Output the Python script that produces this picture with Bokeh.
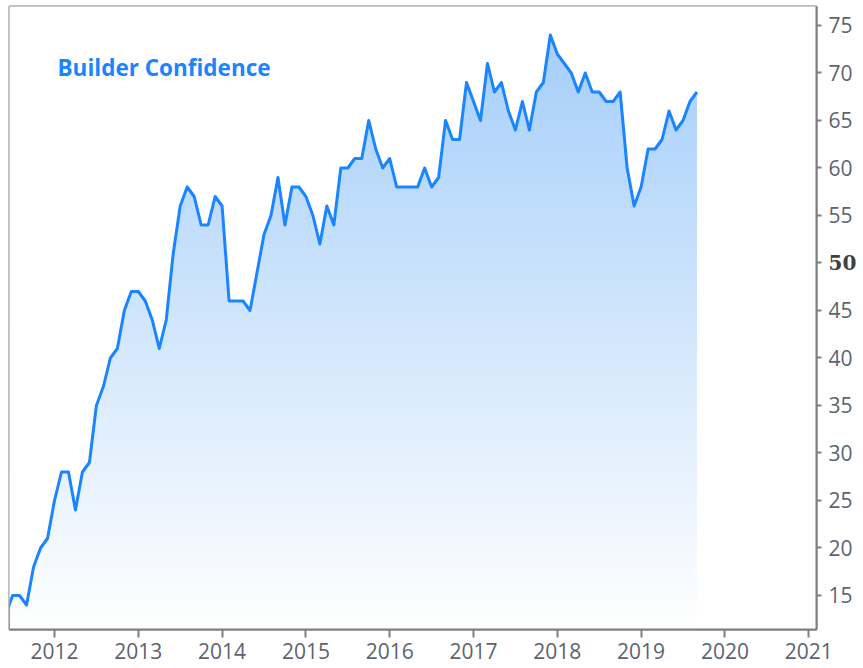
import numpy as np
from bokeh.plotting import figure
from bokeh.models import Range1d, FixedTicker, Label, LinearAxis
from bokeh.embed import file_html
from bokeh.resources import INLINE

# ---- data: NAHB builder confidence, monthly, Jun 2011 .. Sep 2019 ----
start_year = 2011
start_month = 6
values_2011 = [13, 15, 15, 14, 18, 20, 21]
values_2012 = [25, 28, 28, 24, 28, 29, 35, 37, 40, 41, 45, 47]
values_2013 = [47, 46, 44, 41, 44, 51, 56, 58, 57, 54, 54, 57]
values_2014 = [56, 46, 46, 46, 45, 49, 53, 55, 59, 54, 58, 58]
values_2015 = [57, 55, 52, 56, 54, 60, 60, 61, 61, 65, 62, 60]
values_2016 = [61, 58, 58, 58, 58, 60, 58, 59, 65, 63, 63, 69]
values_2017 = [67, 65, 71, 68, 69, 66, 64, 67, 64, 68, 69, 74]
values_2018 = [72, 71, 70, 68, 70, 68, 68, 67, 67, 68, 60, 56]
values_2019 = [58, 62, 62, 63, 66, 64, 65, 67, 68]
x_tick_years = [2012, 2013, 2014, 2015, 2016, 2017, 2018, 2019, 2020, 2021]
y_ticks = [15, 20, 25, 30, 35, 40, 45, 50, 55, 60, 65, 70, 75]
y_bold_ticks = [50]
title_text = "Builder Confidence"

values = (values_2011 + values_2012 + values_2013 + values_2014 + values_2015
          + values_2016 + values_2017 + values_2018 + values_2019)
months = [start_month - 1 + i for i in range(len(values))]
xs = [start_year + m / 12.0 for m in months]

# ---- ranges ----
X0, X1 = 2011.463, 2021.093
Y0, Y1 = 11.42, 77.0

p = figure(width=863, height=668, output_backend="svg", toolbar_location=None,
           x_range=Range1d(X0, X1), y_range=Range1d(Y0, Y1),
           y_axis_location="right",
           min_border_left=9, min_border_top=6, min_border_right=47,
           min_border_bottom=39, background_fill_color="white",
           border_fill_color="white")
p.grid.visible = False
p.outline_line_color = "#7f7f7f"
p.outline_line_width = 2

# vertical gradient background (style only)
n = 256
t = np.linspace(0.0, 1.0, n)  # 0 bottom -> 1 top
top = np.array([162, 205, 250])
bot = np.array([255, 255, 255])
img = np.empty((n, 1), dtype=np.uint32)
view = img.view(dtype=np.uint8).reshape((n, 1, 4))
for i in range(n):
    c = bot + (top - bot) * t[i]
    view[i, 0, 0] = int(c[0])
    view[i, 0, 1] = int(c[1])
    view[i, 0, 2] = int(c[2])
    view[i, 0, 3] = 255
p.image_rgba(image=[img], x=X0, y=Y0, dw=X1 - X0, dh=Y1 - Y0)

# mask above the line and after the last point
p.varea(x=xs, y1=values, y2=[Y1 + 1] * len(xs), fill_color="white")
p.quad(left=[xs[-1]], right=[X1 + 1], bottom=[Y0 - 1], top=[Y1 + 1],
       fill_color="white", line_color=None)

p.line(xs, values, line_color="#1a85ff", line_width=3, line_join="round")

# axes
xa = p.xaxis[0]
xa.ticker = FixedTicker(ticks=x_tick_years)
xa.axis_line_color = "#7f7f7f"
xa.axis_line_width = 2
xa.major_tick_line_color = "#7f7f7f"
xa.major_tick_line_width = 2
xa.major_tick_in = 0
xa.major_tick_out = 8
xa.minor_tick_line_color = None
xa.major_label_standoff = 5
xa.major_label_text_font = "Open Sans"
xa.major_label_text_font_size = "21px"
xa.major_label_text_color = "#5c6470"

ya = p.yaxis[0]
ya.ticker = FixedTicker(ticks=y_ticks)
ya.major_label_overrides = {50: ""}
ya.axis_line_color = "#7f7f7f"
ya.axis_line_width = 2
ya.major_tick_line_color = "#7f7f7f"
ya.major_tick_line_width = 2
ya.major_tick_in = 0
ya.major_tick_out = 5
ya.minor_tick_line_color = None
ya.major_label_standoff = 7
ya.major_label_text_font = "Open Sans"
ya.major_label_text_font_size = "21px"
ya.major_label_text_color = "#5c6470"

# second right axis carrying only the bold "50", pulled back over the first
ya2 = LinearAxis(ticker=FixedTicker(ticks=y_bold_ticks))
ya2.axis_line_color = None
ya2.major_tick_line_color = None
ya2.minor_tick_line_color = None
ya2.major_tick_in = 0
ya2.major_tick_out = 0
ya2.major_label_standoff = -27
ya2.major_label_text_font = "DejaVu Serif"
ya2.major_label_text_font_style = "bold"
ya2.major_label_text_font_size = "20px"
ya2.major_label_text_color = "#404040"
p.add_layout(ya2, "right")

# title
p.add_layout(Label(x=2012 + (57 - 54) / 83.78, y=70.6, text=title_text,
                   text_font="Open Sans", text_font_style="bold",
                   text_font_size="22.5px", text_color="#1a85ff",
                   text_align="left", text_baseline="middle"))

open("out.html", "w").write(file_html(p, INLINE))
